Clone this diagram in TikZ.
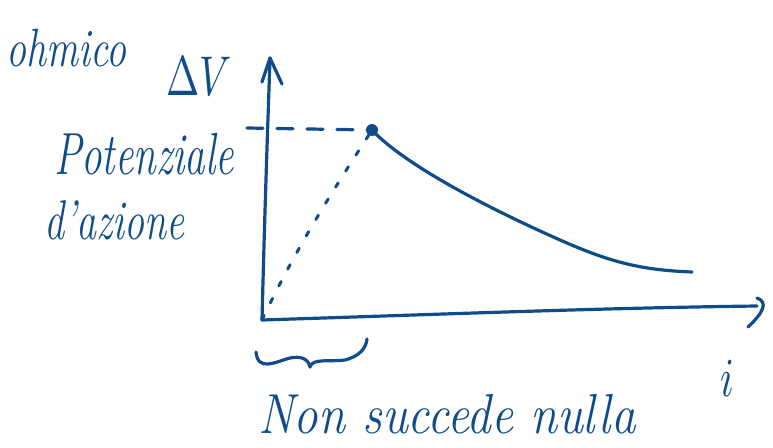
\documentclass[tikz,border=0pt]{standalone}
\usepackage{fontspec}
\setmainfont{Latin Modern Roman}
\definecolor{ink}{RGB}{16,76,140}
\begin{document}
\begin{tikzpicture}[x=1pt,y=-1pt,
  pen/.style={draw=ink,line width=3.2pt,line cap=round,line join=round},
  lbl/.style={text=ink,font=\itshape,inner sep=0pt,anchor=west}]
\useasboundingbox (0,0) rectangle (773,447);
% axes
\coordinate (O) at (262,320);
\coordinate (Ytop) at (270,58);
\coordinate (Xend) at (757,306);
\draw[pen] (O) .. controls (265,200) and (268,120) .. (Ytop);
\draw[pen] (262,82) -- (Ytop) -- (282,84);
\draw[pen] (O) .. controls (450,314) and (600,308) .. (Xend);
\draw[pen] (757,298) .. controls (768,302) and (764,312) .. (748,327);
% peak point
\node[fill=ink,circle,minimum size=12pt,inner sep=0pt,draw=none] (P) at (372,130) {};
% dashed line
\coordinate (D0) at (247,128);
\draw[pen,dash pattern=on 16pt off 14pt] (D0) -- (P.center);
% dotted line
\draw[pen,line width=3pt,dash pattern=on 5pt off 14pt] (O) .. controls (300,240) and (340,180) .. (P.center);
% decay curve
\coordinate (E) at (692,272);
\draw[pen] (P.center) .. controls (400,160) and (470,200) .. (560,240) .. controls (610,262) and (640,270) .. (E);
% brace
\draw[pen] (256,352) .. controls (258,372) and (275,362) .. (290,358) .. controls (300,356) and (308,358) .. (310,367)
  .. controls (312,358) and (330,362) .. (345,360) .. controls (360,356) and (366,348) .. (367,339);
% labels
\node[lbl,font=\fontsize{40}{40}\selectfont\itshape] (ohm) at (6,48) {\scalebox{1}[1.35]{ohmico}};
\node[lbl] (dv) at (166,76) {\scalebox{4}[5.6]{$\Delta V$}};
\node[lbl,font=\fontsize{41}{41}\selectfont\itshape] (pot) at (54,154) {\scalebox{1}[1.45]{Potenziale}};
\node[lbl,font=\fontsize{40}{40}\selectfont\itshape] (az) at (44,220) {\scalebox{1}[1.4]{d'azione}};
\node[lbl] (ii) at (720,378) {\scalebox{4}[5.5]{$i$}};
\node[lbl,font=\fontsize{49}{49}\selectfont\itshape] (nsn) at (258,414) {\scalebox{1}[1.15]{Non succede nulla}};
\end{tikzpicture}
\end{document}
